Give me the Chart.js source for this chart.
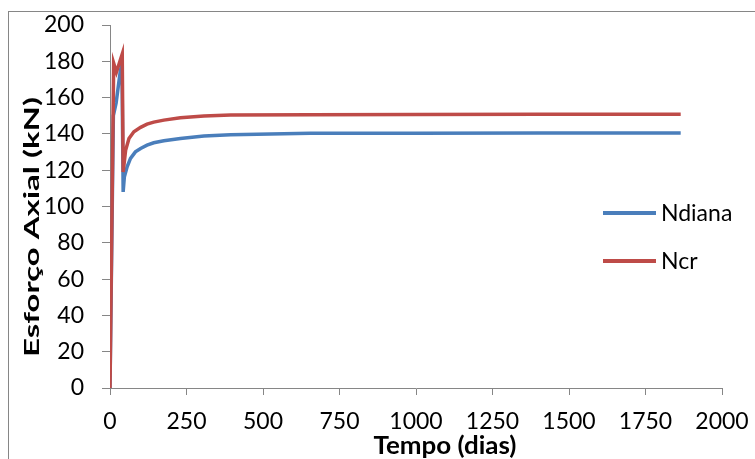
<!DOCTYPE html>
<html lang="pt">
<head>
    <meta charset="UTF-8">
    <title>Esforço Axial</title>
    <style>
        html, body { margin: 0; padding: 0; background: #fff; }
        #wrap { width: 755px; height: 459px; }
    </style>
</head>
<body>
<div id="wrap">
    <canvas id="Chart1" width="755" height="459"></canvas>
</div>

<script src="https://cdn.jsdelivr.net/npm/chart.js"></script>
<script>

    // values (days, kN)
    const ndianaDays = [0, 11, 20, 34, 39, 43, 47, 56, 67, 83, 100, 121, 143, 176, 230, 307, 394, 655, 1000, 1400, 1865];
    const ndianaValues = [0, 150, 157, 175, 178, 108, 116.4, 121.9, 126.5, 130.1, 132, 133.8, 135.1, 136.2, 137.5, 138.8, 139.5, 140.3, 140.4, 140.5, 140.5];

    const ncrDays = [0, 12, 21, 40, 43, 51, 62, 78, 100, 121, 143, 176, 230, 307, 394, 655, 1000, 1400, 1865];
    const ncrValues = [0, 179, 174, 184, 119, 131, 137.5, 141.2, 143.6, 145.4, 146.5, 147.6, 148.9, 149.8, 150.4, 150.6, 150.7, 150.8, 150.8];

    const seriesNames = ['Ndiana', 'Ncr'];
    const xTitle = 'Tempo (dias)';
    const yTitle = 'Esforço Axial (kN)';

    const axisGrey = '#868686';
    const font = 'Lato';

    function toPoints(days, vals) {
        return days.map((d, i) => ({x: d, y: vals[i]}));
    }

    // text squeezed/stretched to the length it has in the picture
    function fitText(c, txt, x, y, len, angle) {
        c.save();
        c.translate(x, y);
        c.rotate(angle);
        const w = c.measureText(txt).width;
        c.scale(len / w, 1);
        c.fillText(txt, 0, 0);
        c.restore();
    }

    // legend + axis titles + outer frame, drawn by hand like the excel one
    const extras = {
        id: 'extras',
        beforeDraw(chart) {
            const c = chart.ctx;
            c.save();
            c.strokeStyle = axisGrey;
            c.lineWidth = 1;
            c.strokeRect(8.5, 11.5, 800, 500);
            c.restore();
        },
        afterDraw(chart) {
            const c = chart.ctx;
            c.save();
            c.fillStyle = '#000';
            c.textAlign = 'center';
            c.textBaseline = 'middle';
            c.font = 'bold 24px ' + font;
            fitText(c, xTitle, 445, 446, 143, 0);
            c.font = 'bold 20px ' + font;
            fitText(c, yTitle, 33, 227, 260, -Math.PI / 2);
            c.restore();

            const rows = [213, 261];
            chart.data.datasets.forEach((ds, i) => {
                c.save();
                c.strokeStyle = ds.borderColor;
                c.lineWidth = 4;
                c.beginPath();
                c.moveTo(603, rows[i]);
                c.lineTo(656, rows[i]);
                c.stroke();
                c.fillStyle = '#000';
                c.font = '23px ' + font;
                c.textAlign = 'left';
                c.textBaseline = 'middle';
                c.fillText(ds.label, 661, rows[i] + 1);
                c.restore();
            });
        }
    };

    const ctx1 = document.getElementById('Chart1').getContext('2d');

    const chart = new Chart(ctx1, {
        type: 'line',
        data: {
            datasets: [{
                label: seriesNames[0],
                data: toPoints(ndianaDays, ndianaValues),
                borderColor: '#4A7EBB',
                borderWidth: 3.5,
                pointRadius: 0,
                tension: 0,
                order: 2
            }, {
                label: seriesNames[1],
                data: toPoints(ncrDays, ncrValues),
                borderColor: '#BE4B48',
                borderWidth: 3.5,
                pointRadius: 0,
                tension: 0,
                order: 1
            }]
        },
        options: {
            responsive: false,
            animation: false,
            layout: {
                padding: {top: 25, right: 33, left: 0, bottom: 0}
            },
            plugins: {
                legend: {display: false},
                tooltip: {enabled: false}
            },
            scales: {
                x: {
                    type: 'linear',
                    min: 0,
                    max: 2000,
                    afterFit: (s) => {
                        s.height = 71;
                        s.paddingLeft = 0;
                        s.paddingRight = 0;
                    },
                    ticks: {
                        stepSize: 250,
                        color: '#000',
                        padding: 13,
                        maxRotation: 0,
                        callback: (v) => String(v),
                        font: {family: font, size: 23}
                    },
                    grid: {drawOnChartArea: false, color: axisGrey, tickLength: 7},
                    border: {color: axisGrey, width: 1}
                },
                y: {
                    min: 0,
                    max: 200,
                    afterFit: (s) => {
                        s.width = 110;
                        s.paddingTop = 0;
                        s.paddingBottom = 0;
                    },
                    ticks: {
                        stepSize: 20,
                        color: '#000',
                        padding: 18,
                        callback: (v) => String(v),
                        font: {family: font, size: 23}
                    },
                    grid: {drawOnChartArea: false, color: axisGrey, tickLength: 8},
                    border: {color: axisGrey, width: 1}
                }
            }
        },
        plugins: [extras]
    });

</script>
</body>
</html>
